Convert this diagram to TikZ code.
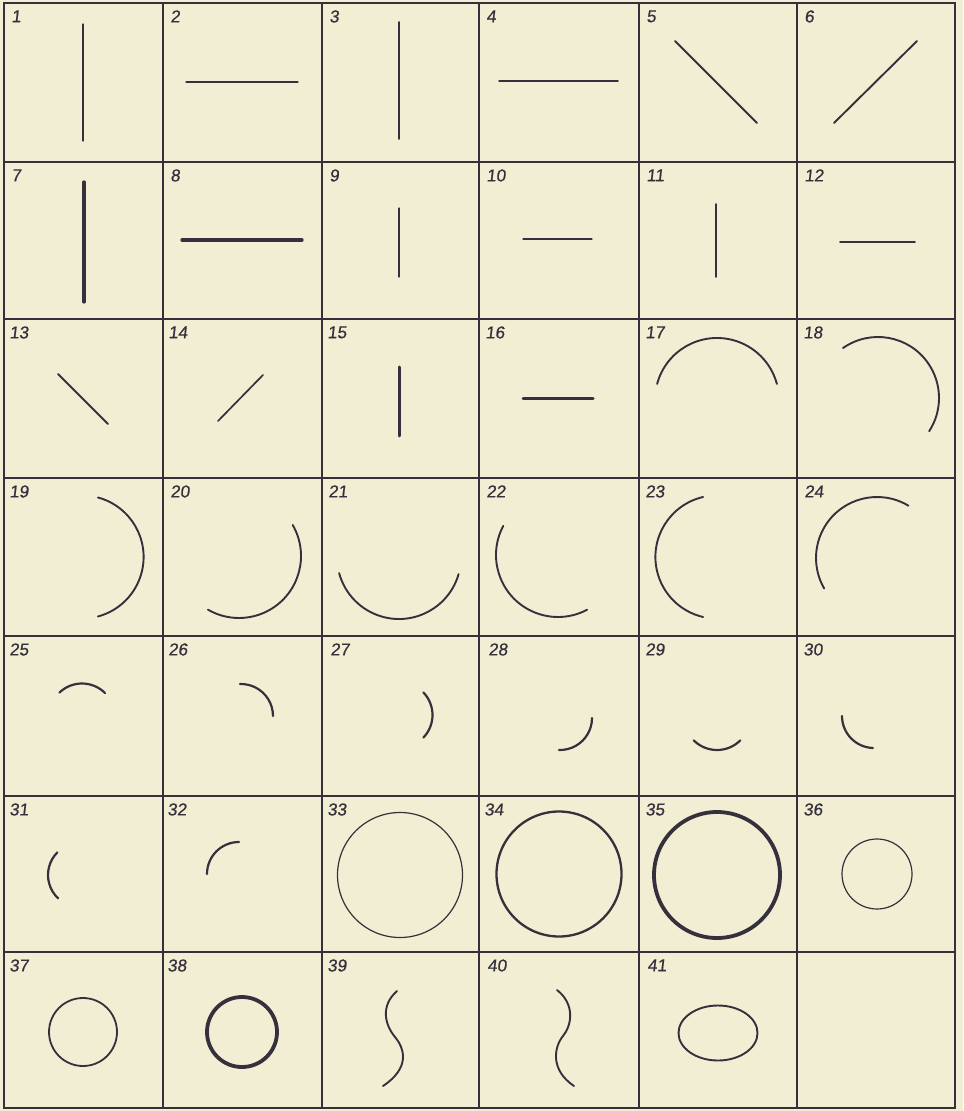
\documentclass[tikz,border=0pt]{standalone}
\usepackage{fontspec}
\setmainfont{Liberation Sans}
\newfontfamily\numfont[FakeSlant=0.12, FakeBold=0.6]{Liberation Sans}
\definecolor{paper}{RGB}{242,238,212}
\definecolor{ink}{RGB}{52,49,60}
\tikzset{
  grid/.style={draw=ink, line width=1.1pt},
  shp/.style={draw=ink, line cap=round, line width=0.95pt},
  thinl/.style={shp, line width=0.65pt},
  thickl/.style={shp, line width=1.6pt},
  heavyl/.style={shp, line width=1.9pt},
  num/.style={anchor=north west, inner sep=0pt, text=ink, font=\numfont\fontsize{8.6}{9}\selectfont}
}
\begin{document}
\begin{tikzpicture}[x=0.5pt, y=-0.5pt]
\fill[paper] (0,0) rectangle (963,1111);
\useasboundingbox (0,0) rectangle (963,1111);
% grid
\draw[grid] (4,3) rectangle (955,1108);
\foreach \xx in {163,322,479,639,797} \draw[grid] (\xx,3) -- (\xx,1108);
\foreach \yy in {162,319,478,636,796,952} \draw[grid] (4,\yy) -- (955,\yy);
% labels
\foreach \n/\lx/\ly in {1/11/10, 2/170/10, 3/329/10, 4/486/10, 5/646/10, 6/804/10,
  7/11/169, 8/170/169, 9/329/169, 10/486/169, 11/646/169, 12/804/169,
  13/9/326, 14/168/326, 15/327/326, 16/485/326, 17/645/326, 18/803/326,
  19/9/485, 20/170/485, 21/328/485, 22/486/485, 23/645/485, 24/804/485,
  25/9/643, 26/168/643, 27/330/643, 28/488/643, 29/645/643, 30/803/643,
  31/9/803, 32/167/803, 33/327/803, 34/484/803, 35/645/803, 36/803/803,
  37/9/959, 38/167/959, 39/327/959, 40/487/959, 41/647/959}
  \node[num] (l\n) at (\lx,\ly) {\n};
% row 1
\draw[thinl] (83,24) -- (83,141);
\draw[thinl] (186,82) -- (298,82);
\draw[shp, line width=0.85pt] (399,22) -- (399,139);
\draw[thinl, line width=0.75pt] (499,81) -- (618,81);
\draw[shp] (675,41) -- (757,123);
\draw[shp] (834,123) -- (917,41);
% row 2
\draw[thickl] (84,182) -- (84,302);
\draw[thickl] (182,240) -- (302,240);
\draw[thinl, line width=0.6pt] (399,208) -- (399,277);
\draw[thinl, line width=0.6pt] (523,239) -- (592,239);
\draw[shp] (716,204) -- (716,277);
\draw[shp, line width=0.85pt] (840,242) -- (915,242);
% row 3
\draw[shp] (58,374) -- (108,424);
\draw[shp, line width=0.85pt] (218,421) -- (263,375);
\draw[thickl, line width=1.5pt] (399,367) -- (399,436);
\draw[thickl, line width=1.5pt] (523,399) -- (593,399);
\draw[shp] ([shift={(195:62)}]717,400) arc[start angle=195, end angle=345, radius=62];
\draw[shp] ([shift={(235:61)}]878,398) arc[start angle=235, end angle=393, radius=61];
% row 4
\draw[shp] ([shift={(-75:61.6)}]82,557) arc[start angle=-75, end angle=75, radius=61.6];
\draw[shp] ([shift={(-30:62)}]239,556) arc[start angle=-30, end angle=120, radius=62];
\draw[shp] ([shift={(16:62)}]399,557) arc[start angle=16, end angle=165, radius=62];
\draw[shp] ([shift={(208:62)}]558,555) arc[start angle=208, end angle=62, radius=62];
\draw[shp] ([shift={(257:61.6)}]717,557) arc[start angle=257, end angle=103, radius=61.6];
\draw[shp] ([shift={(301:61)}]877,558) arc[start angle=301, end angle=150, radius=61];
% row 5
\draw[shp, line width=1.1pt] ([shift={(226:32.5)}]82,716) arc[start angle=226, end angle=315, radius=32.5];
\draw[shp, line width=1.1pt] ([shift={(268:32)}]241,716) arc[start angle=268, end angle=360, radius=32];
\draw[shp, line width=1.1pt] ([shift={(-44:32.5)}]400,715) arc[start angle=-44, end angle=44, radius=32.5];
\draw[shp, line width=1.1pt] ([shift={(0:32)}]560,718) arc[start angle=0, end angle=92, radius=32];
\draw[shp, line width=1.1pt] ([shift={(45:33)}]717,717) arc[start angle=45, end angle=135, radius=33];
\draw[shp, line width=1.1pt] ([shift={(180:32)}]874,716) arc[start angle=180, end angle=92, radius=32];
% row 6
\draw[shp, line width=1.1pt] ([shift={(225:32)}]80,875) arc[start angle=225, end angle=133, radius=32];
\draw[shp, line width=1.1pt] ([shift={(180:32)}]239,874) arc[start angle=180, end angle=270, radius=32];
\draw[thinl, line width=0.6pt] (400,875) circle[radius=62.5];
\draw[shp, line width=1.15pt] (559,874) circle[radius=62.5];
\draw[heavyl] (717,875) circle[radius=63];
\draw[thinl, line width=0.6pt] (877,874) circle[radius=35];
% row 7
\draw[shp, line width=0.9pt] (83,1032) circle[radius=34];
\draw[heavyl] (242,1032) circle[radius=35];
\draw[shp] (397,991) .. controls (380,1006) and (385,1025) .. (395,1037)
  .. controls (405,1049) and (410,1068) .. (383,1086);
\draw[shp] (557,990) .. controls (575,1004) and (572,1025) .. (563,1036)
  .. controls (554,1047) and (550,1070) .. (574,1086);
\draw[shp] (718,1033) ellipse[x radius=39.5, y radius=27.5];
\end{tikzpicture}
\end{document}
